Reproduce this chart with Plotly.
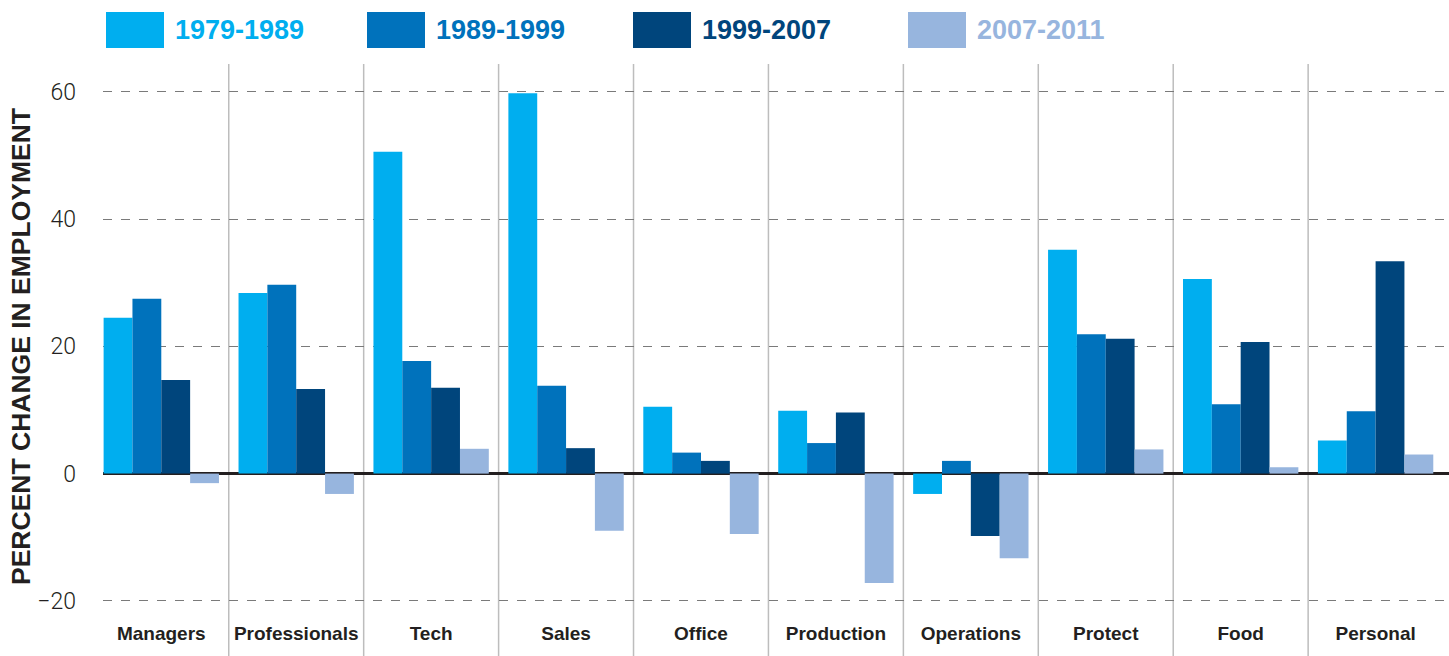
import plotly.graph_objects as go

categories = ["Managers", "Professionals", "Tech", "Sales", "Office",
              "Production", "Operations", "Protect", "Food", "Personal"]
periods = ["1979-1989", "1989-1999", "1999-2007", "2007-2011"]

change_1979_1989 = [24.5, 28.4, 50.6, 59.8, 10.5, 9.9, -3.2, 35.2, 30.6, 5.2]
change_1989_1999 = [27.5, 29.7, 17.7, 13.8, 3.3, 4.8, 2.0, 21.9, 10.9, 9.8]
change_1999_2007 = [14.7, 13.3, 13.5, 4.0, 2.0, 9.6, -9.8, 21.2, 20.7, 33.4]
change_2007_2011 = [-1.5, -3.2, 3.9, -9.0, -9.5, -17.2, -13.3, 3.8, 1.0, 3.0]

series = [change_1979_1989, change_1989_1999, change_1999_2007, change_2007_2011]
colors = ["#00AEEF", "#0072BC", "#00457C", "#97B5DE"]

W, H = 1449, 656
ML, MR, MT, MB = 103, 0, 64, 44
PW, PH = W - ML - MR, H - MT - MB

fig = go.Figure()

# Add one bar trace per period
for name, vals, col in zip(periods, series, colors):
    fig.add_trace(go.Bar(x=categories, y=vals, name=name, marker_color=col,
                         marker_line_width=0, showlegend=False))

# vertical separators between categories
for i in range(1, len(categories)):
    fig.add_shape(type="line", xref="x", yref="paper", x0=i - 0.5, x1=i - 0.5,
                  y0=-MB / PH, y1=1, line=dict(color="#BDBDBD", width=1.5), layer="below")

# Legend drawn by hand: squares and coloured labels along the top
legend_left = [106, 367, 633, 908]
for px, name, col in zip(legend_left, periods, colors):
    fig.add_shape(type="rect", xref="paper", yref="paper",
                  x0=(px - ML) / PW, x1=(px + 58 - ML) / PW,
                  y0=(H - MB - 48) / PH, y1=(H - MB - 12) / PH,
                  fillcolor=col, line_width=0)
    fig.add_annotation(xref="paper", yref="paper", x=(px + 67 - ML) / PW,
                       y=(H - MB - 30) / PH, text=name, showarrow=False,
                       xanchor="left", yanchor="middle",
                       font=dict(family="Liberation Sans, Arial", size=27, color=col, weight="bold"))

# y axis title, placed by hand
fig.add_annotation(xref="paper", yref="paper", x=(21 - ML) / PW, y=(H - MB - 347) / PH,
                   text="PERCENT CHANGE IN EMPLOYMENT", textangle=-90, showarrow=False,
                   xanchor="center", yanchor="middle",
                   font=dict(family="Liberation Sans, Arial", size=26.5, color="#231F20", weight="bold"))

fig.update_layout(
    width=W, height=H,
    margin=dict(l=ML, r=MR, t=MT, b=MB),
    plot_bgcolor="white", paper_bgcolor="white",
    barmode="group", bargap=0.145, bargroupgap=0,
)

fig.update_xaxes(
    range=[-0.432, 9.544], showgrid=False, showline=False, zeroline=False,
    ticks="", ticklabelstandoff=8,
    tickfont=dict(family="Liberation Sans, Arial", size=19, color="#231F20", weight="bold"),
)

fig.update_yaxes(
    range=[-21.76, 64.4], tickvals=[-20, 0, 20, 40, 60],
    ticktext=["\u221220", "0", "20", "40", "60"],
    showgrid=True, gridcolor="#7A7A7A", griddash="dash", gridwidth=1.4,
    zeroline=True, zerolinecolor="#231F20", zerolinewidth=3,
    showline=False, ticks="", ticklabelstandoff=26,
    tickfont=dict(family="Roboto", size=23, color="#231F20", weight=300),
)

# page body has a default margin; drop it so the chart sits at the window corner
fig.write_html("out.html", config={"displayModeBar": False},
               post_script="document.body.style.margin='0';")
